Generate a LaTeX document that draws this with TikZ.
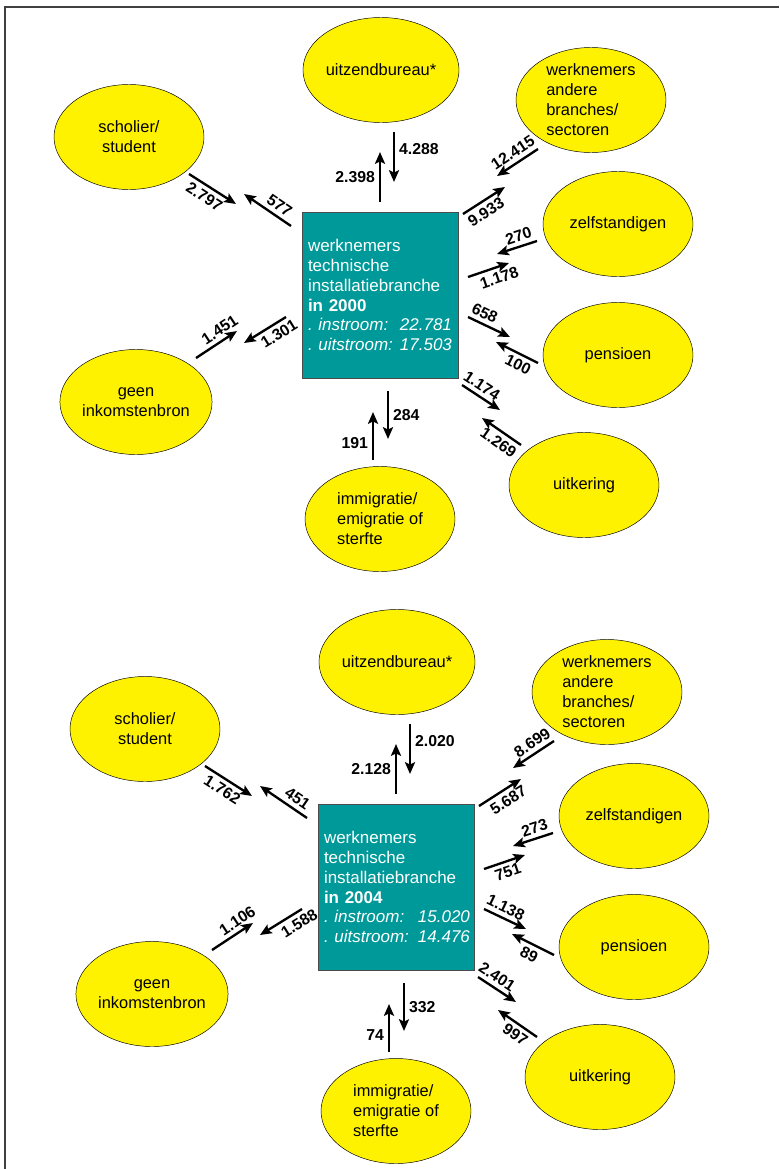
\documentclass[tikz,border=0pt]{standalone}
\usepackage{fontspec}
\setmainfont{Liberation Sans}
\usetikzlibrary{shapes.geometric, arrows.meta}

\definecolor{boxteal}{RGB}{0,153,153}
\frenchspacing

% end points of the flow arrows (same layout in both diagrams)
\newcommand{\flowends}{%
  \foreach \n/\x/\y in {schIn0/189/174, schIn1/236/204, schOut0/291/226, schOut1/244/194,
                        uitOut0/380/202, uitOut1/380/152, uitIn0/394/132, uitIn1/394/182,
                        wrkIn0/538/149, wrkIn1/497/176, wrkOut0/463/214, wrkOut1/505/187,
                        zlfIn0/537/241, zlfIn1/497/254, zlfOut0/468/277, zlfOut1/509/263,
                        penOut0/468/317, penOut1/510/337, penIn0/538/363, penIn1/496/342,
                        ukrOut0/462/385, ukrOut1/500/410, ukrIn0/521/445, ukrIn1/482/418,
                        immOut0/388/391, immOut1/388/439, immIn0/373/460, immIn1/373/412,
                        genIn0/196/358, genIn1/237/331, genOut0/286/317, genOut1/244/343}
    \coordinate (\n) at (\x,\y);}

\begin{document}
\begin{tikzpicture}[x=0.03cm, y=-0.03cm,
        every node/.style={font=\fontsize{14}{17}\selectfont},
        party/.style={ellipse, draw=black, thin, fill=yellow, minimum width=4.5cm, minimum height=3.15cm, inner sep=0pt},
        branch/.style={rectangle, draw=black!70, fill=boxteal, text=white, text width=4.32cm, inner xsep=0.18cm, minimum height=4.98cm, align=left, font=\fontsize{14.5}{17}\selectfont},
        num/.style={font=\fontsize{13.5}{16}\selectfont\bfseries},
        flow/.style={->, >={Stealth[length=10pt, width=8.5pt, inset=2pt]}, line width=2pt}
    ]
    \useasboundingbox (0,0) rectangle (779,1169);
    \draw[black!75, line width=1pt] (5,1169) -- (5,7) -- (779,7);

    % 2000
    \begin{scope}[name prefix=a-]
        \node[party] (uit) at (381,70) {uitzendbureau*};
        \node[party, align=left] (wrk) at (591,100) {werknemers\\andere\\branches/\\sectoren};
        \node[party] (zlf) at (618,224) {zelfstandigen};
        \node[party] (pen) at (618,355) {pensioen};
        \node[party] (ukr) at (584,485) {uitkering};
        \node[party, align=left] (imm) at (380,519) {immigratie/\\emigratie of\\sterfte};
        \node[party, align=center] (gen) at (136,402) {geen\\inkomstenbron};
        \node[party, align=center] (sch) at (129,137) {scholier/\\student};
        \node[branch] (box) at (380,295) {werknemers\\technische\\installatiebranche\\\textbf{in 2000}\\
            \textit{\makebox[2.76cm][l]{. instroom:}22.781}\\\textit{\makebox[2.76cm][l]{. uitstroom:}17.503}};
        \flowends

        \draw[flow] (schIn0) -- node[num, sloped, below, pos=.45] {2.797} (schIn1);
        \draw[flow] (schOut0) -- node[num, sloped, above, pos=.37] {577} (schOut1);
        \draw[flow] (uitOut0) -- node[num, left, pos=.5] {2.398} (uitOut1);
        \draw[flow] (uitIn0) -- node[num, right, pos=.35] {4.288} (uitIn1);
        \draw[flow] (wrkIn0) -- node[num, sloped, above, pos=.47] {12.415} (wrkIn1);
        \draw[flow] (wrkOut0) -- node[num, sloped, below, pos=.41] {9.933} (wrkOut1);
        \draw[flow] (zlfIn0) -- node[num, sloped, above, pos=.38] {270} (zlfIn1);
        \draw[flow] (zlfOut0) -- node[num, sloped, below, pos=.68] {1.178} (zlfOut1);
        \draw[flow] (penOut0) -- node[num, sloped, above, pos=.29] {658} (penOut1);
        \draw[flow] (penIn0) -- node[num, sloped, below, pos=.36] {100} (penIn1);
        \draw[flow] (ukrOut0) -- node[num, sloped, above, pos=.37] {1.174} (ukrOut1);
        \draw[flow] (ukrIn0) -- node[num, sloped, below, pos=.42] {1.269} (ukrIn1);
        \draw[flow] (immOut0) -- node[num, right, pos=.5] {284} (immOut1);
        \draw[flow] (immIn0) -- node[num, left, pos=.35] {191} (immIn1);
        \draw[flow] (genIn0) -- node[num, sloped, above, pos=.72] {1.451} (genIn1);
        \draw[flow] (genOut0) -- node[num, sloped, below, pos=.3] {1.301} (genOut1);
    \end{scope}

    % 2004
    \begin{scope}[shift={(16,592)}, name prefix=b-]
        \node[party] (uit) at (381,70) {uitzendbureau*};
        \node[party, align=left] (wrk) at (591,100) {werknemers\\andere\\branches/\\sectoren};
        \node[party] (zlf) at (618,224) {zelfstandigen};
        \node[party] (pen) at (618,355) {pensioen};
        \node[party] (ukr) at (584,485) {uitkering};
        \node[party, align=left] (imm) at (380,519) {immigratie/\\emigratie of\\sterfte};
        \node[party, align=center] (gen) at (136,402) {geen\\inkomstenbron};
        \node[party, align=center] (sch) at (129,137) {scholier/\\student};
        \node[branch] (box) at (380,295) {werknemers\\technische\\installatiebranche\\\textbf{in 2004}\\
            \textit{\makebox[2.82cm][l]{. instroom:}15.020}\\\textit{\makebox[2.82cm][l]{. uitstroom:}14.476}};
        \flowends

        \draw[flow] (schIn0) -- node[num, sloped, below, pos=.49] {1.762} (schIn1);
        \draw[flow] (schOut0) -- node[num, sloped, above, pos=.33] {451} (schOut1);
        \draw[flow] (uitOut0) -- node[num, left, pos=.5] {2.128} (uitOut1);
        \draw[flow] (uitIn0) -- node[num, right, pos=.34] {2.020} (uitIn1);
        \draw[flow] (wrkIn0) -- node[num, sloped, above, pos=.39] {8.699} (wrkIn1);
        \draw[flow] (wrkOut0) -- node[num, sloped, below, pos=.56] {5.687} (wrkOut1);
        \draw[flow] (zlfIn0) -- node[num, sloped, above, pos=.38] {273} (zlfIn1);
        \draw[flow] (zlfOut0) -- node[num, sloped, below, pos=.5] {751} (zlfOut1);
        \draw[flow] (penOut0) -- node[num, sloped, above, pos=.41] {1.138} (penOut1);
        \draw[flow] (penIn0) -- node[num, sloped, below, pos=.48] {89} (penIn1);
        \draw[flow] (ukrOut0) -- node[num, sloped, above, pos=.35] {2.401} (ukrOut1);
        \draw[flow] (ukrIn0) -- node[num, sloped, below, pos=.4] {997} (ukrIn1);
        \draw[flow] (immOut0) -- node[num, right, pos=.5] {332} (immOut1);
        \draw[flow] (immIn0) -- node[num, left, pos=.35] {74} (immIn1);
        \draw[flow] (genIn0) -- node[num, sloped, above, pos=.76] {1.106} (genIn1);
        \draw[flow] (genOut0) -- node[num, sloped, below, pos=.2] {1.588} (genOut1);
    \end{scope}
\end{tikzpicture}
\end{document}
